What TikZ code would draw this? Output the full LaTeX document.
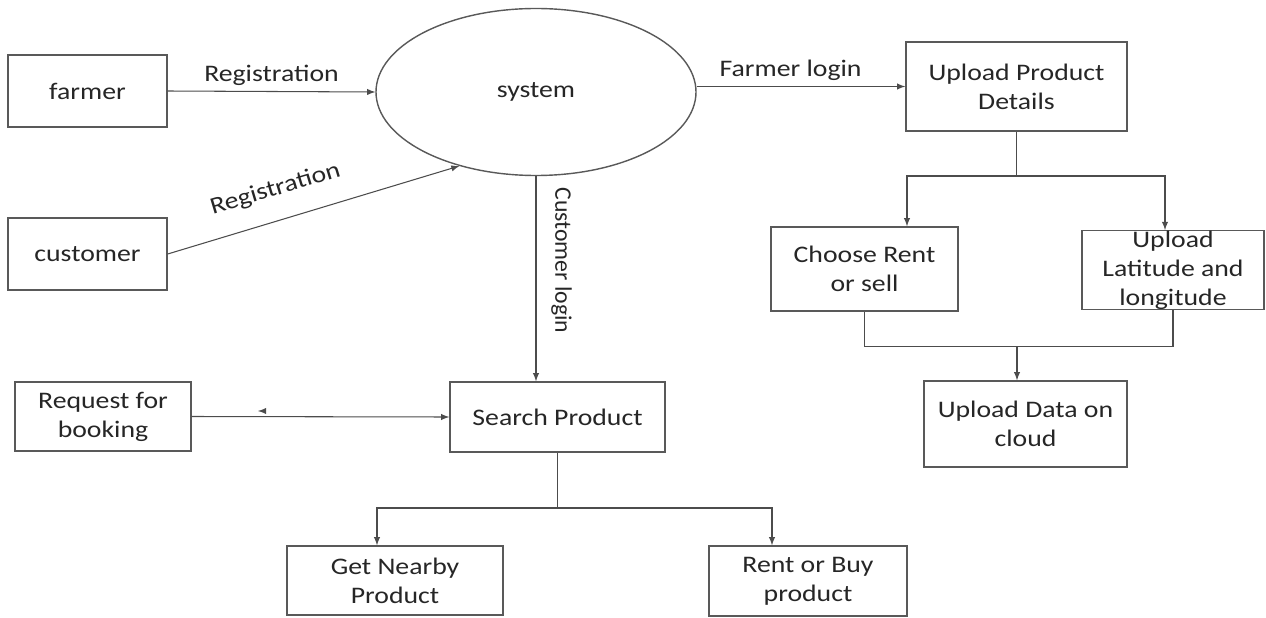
\documentclass[tikz,border=0pt]{standalone}
\usepackage{fontspec}
\setmainfont{Carlito}[FakeStretch=1.17]
\newfontfamily\uprightlbl{Carlito}
\usetikzlibrary{shapes.geometric}

\tikzset{
  box/.style={draw=black!65, line width=0.8pt, text=black!85, align=center, inner sep=0pt},
  flow/.style={->, >=latex, draw=black!70, line width=0.6pt},
  link/.style={draw=black!70, line width=0.6pt},
  lbl/.style={text=black!85},
}

\begin{document}
\begin{tikzpicture}[font=\fontsize{13.5}{16.5}\selectfont]
\useasboundingbox (0,0) rectangle (25.32,-12.36);

% actors and system
\node[box, minimum width=3.18cm, minimum height=1.44cm] (farmer) at (1.75,-1.82) {farmer};
\node[box, minimum width=3.18cm, minimum height=1.44cm] (customer) at (1.75,-5.08) {customer};
\node[box, ellipse, minimum width=6.4cm, minimum height=3.34cm] (sys) at (10.72,-1.84) {system};

% farmer side
\node[box, minimum width=4.42cm, minimum height=1.78cm] (upd) at (20.33,-1.73) {Upload Product\\Details};
\node[box, minimum width=3.74cm, minimum height=1.68cm] (choose) at (17.29,-5.38) {Choose Rent\\or sell};
\node[box, inner ysep=0pt, minimum width=3.64cm, minimum height=1.56cm] (lat) at (23.46,-5.40) {Upload\\Latitude and\\longitude};
\node[box, minimum width=4.06cm, minimum height=1.72cm] (cloud) at (20.51,-8.48) {Upload Data on\\cloud};

% customer side
\node[box, minimum width=3.52cm, minimum height=1.38cm] (req) at (2.06,-8.33) {Request for\\booking};
\node[box, minimum width=4.30cm, minimum height=1.40cm] (search) at (11.15,-8.34) {Search Product};
\node[box, minimum width=4.32cm, minimum height=1.38cm] (near) at (7.90,-11.61) {Get Nearby\\Product};
\node[box, minimum width=3.96cm, minimum height=1.40cm] (rent) at (16.16,-11.62) {Rent or Buy\\product};

\coordinate (fork1) at (20.33,-3.52);
\coordinate (join1) at (20.34,-6.92);
\coordinate (fork2) at (11.15,-10.16);
\coordinate (stray) at (5.16,-8.22);

% connectors
\draw[flow] (farmer.east) -- (sys.west) node[lbl,above,pos=0.5]{Registration};
\draw[flow] (customer.east) -- (sys.224) node[lbl,above=8pt,sloped,pos=0.4]{Registration};
\draw[flow] (upd.west -| sys.east) -- (upd.west) node[lbl,above,pos=0.45]{Farmer login};
\draw[flow] (sys.south) -- (sys.south |- search.north) node[lbl,above=5pt,sloped,pos=0.41]{\uprightlbl Customer login};

\draw[flow] (upd.south) -- (fork1) -| ([xshift=0.85cm]choose.north);
\draw[flow] (fork1) -| ([xshift=-0.16cm]lat.north);
\draw[link] (choose.south) -- ++(0,-0.7) -| (lat.south);
\draw[flow] (join1) -- (join1 |- cloud.north);

\draw[flow] (req.east) -- (search.west);
\draw[<-, >=latex, draw=black!70, line width=0.6pt] (stray) -- ++(0.06,0);
\draw[flow] (search.south) -- (fork2) -| ([xshift=-0.36cm]near.north);
\draw[flow] (fork2) -| ([xshift=-0.72cm]rent.north);
\end{tikzpicture}
\end{document}
